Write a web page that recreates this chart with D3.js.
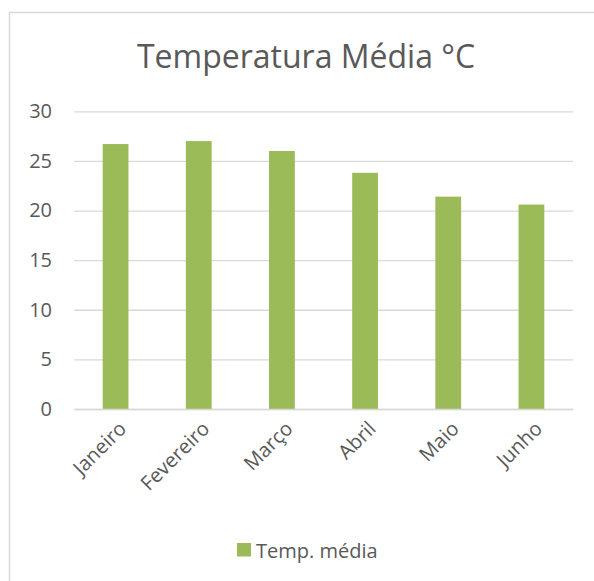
<!DOCTYPE html>
<html>
<head>
<meta charset="utf-8">
<script src="https://cdn.jsdelivr.net/npm/d3@7"></script>
<style>
  body { margin: 0; background: #fff; }
  svg { display: block; font-family: "Open Sans", sans-serif; }
</style>
</head>
<body>
<div id="chart"></div>
<script>
// data
var months = ["Janeiro", "Fevereiro", "Março", "Abril", "Maio", "Junho"];
var tempMedia = [26.7, 27.0, 26.0, 23.8, 21.4, 20.6];
var yTicks = [0, 5, 10, 15, 20, 25, 30];
var seriesName = "Temp. média";

var w = 594,
  h = 581,
  textColor = "#595959",
  barColor = "#9bbb59",
  gridColor = "#d9d9d9";

var plot = { left: 74, right: 573, top: 111.3, bottom: 409 };

var svg = d3
  .select("#chart")
  .append("svg")
  .attr("width", w)
  .attr("height", h);

// chart border (cut off at right and bottom)
svg
  .append("rect")
  .attr("x", 9.5)
  .attr("y", 12.5)
  .attr("width", w + 20)
  .attr("height", h + 20)
  .attr("fill", "#fff")
  .attr("stroke", gridColor)
  .attr("stroke-width", 1.5);

var x = d3
  .scaleBand()
  .domain(months)
  .range([plot.left, plot.right])
  .paddingInner(0.69)
  .paddingOuter(0.345);

var y = d3
  .scaleLinear()
  .domain([0, 30])
  .range([plot.bottom, plot.top]);

// title
svg
  .append("text")
  .attr("x", 306)
  .attr("y", 67.5)
  .attr("text-anchor", "middle")
  .attr("fill", textColor)
  .style("font-size", "32px")
  .text("Temperatura Média °C");

// gridlines + y labels
var yAxis = svg
  .append("g")
  .attr("transform", "translate(" + plot.left + ",0)")
  .call(
    d3
      .axisLeft(y)
      .tickValues(yTicks)
      .tickSize(-(plot.right - plot.left))
      .tickPadding(22)
  );
yAxis.select(".domain").remove();
yAxis
  .selectAll(".tick line")
  .attr("stroke", gridColor)
  .attr("stroke-width", 1.3);
yAxis
  .selectAll(".tick text")
  .attr("fill", textColor)
  .style("font-size", "20px")
  .style("font-family", "Open Sans, sans-serif");

// bars
svg
  .selectAll("rect.bar")
  .data(tempMedia)
  .enter()
  .append("rect")
  .attr("class", "bar")
  .attr("x", function (d, i) {
    return x(months[i]);
  })
  .attr("y", function (d) {
    return y(d);
  })
  .attr("width", x.bandwidth())
  .attr("height", function (d) {
    return y(0) - y(d);
  })
  .attr("fill", barColor);

// x axis line + rotated month labels
var xAxis = svg
  .append("g")
  .attr("transform", "translate(0," + plot.bottom + ")")
  .call(d3.axisBottom(x).tickSize(0).tickPadding(0));
xAxis
  .select(".domain")
  .attr("stroke", gridColor)
  .attr("stroke-width", 1.5);
xAxis
  .selectAll(".tick text")
  .attr("fill", textColor)
  .style("font-size", "20px")
  .style("font-family", "Open Sans, sans-serif")
  .attr("text-anchor", "end")
  .attr("dy", 0)
  .attr("transform", "translate(12,21) rotate(-45)");

// legend
var legend = svg.append("g").attr("transform", "translate(237,543)");
legend
  .append("rect")
  .attr("width", 14)
  .attr("height", 13.5)
  .attr("fill", barColor);
legend
  .append("text")
  .attr("x", 19)
  .attr("y", 14.5)
  .attr("fill", textColor)
  .style("font-size", "20px")
  .text(seriesName);
</script>
</body>
</html>
